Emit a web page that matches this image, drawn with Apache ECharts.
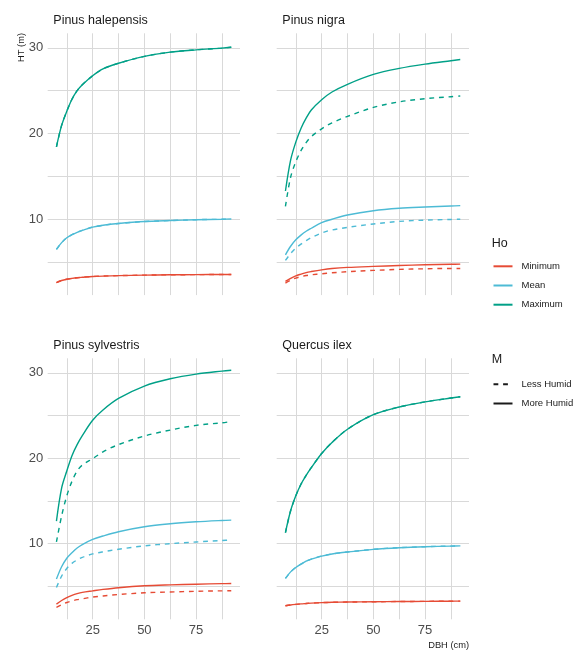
<!DOCTYPE html>
<html>
<head>
<meta charset="utf-8">
<script src="https://cdn.jsdelivr.net/npm/echarts@6/dist/echarts.min.js"></script>
<style>
  html, body { margin: 0; padding: 0; background: #ffffff; }
  #chart { width: 588px; height: 657px; }
</style>
</head>
<body>
<div id="chart"></div>
<script>
// Diameter at breast height (cm) where the height curves are sampled
const dbh = [7.5, 10, 12.5, 15, 17.5, 20, 25, 30, 37.5, 50, 62.5, 75, 87.5, 92];

const species = ['Pinus halepensis', 'Pinus nigra', 'Pinus sylvestris', 'Quercus ilex'];
const hoLevels = ['Minimum', 'Mean', 'Maximum'];
const mLevels = ['Less Humid', 'More Humid'];

const xTickValues = [12.5, 25, 37.5, 50, 62.5, 75, 87.5];
const xLabelValues = [25, 50, 75];
const yTickValues = [5, 10, 15, 20, 25, 30];
const yLabelValues = [10, 20, 30];

// Pinus halepensis: both humidity classes give the same curves
const halepensisMin  = [2.6, 2.85, 3.0, 3.1, 3.18, 3.23, 3.32, 3.37, 3.42, 3.48, 3.52, 3.54, 3.55, 3.55];
const halepensisMean = [6.48, 7.27, 7.85, 8.2, 8.48, 8.7, 9.08, 9.3, 9.5, 9.73, 9.85, 9.95, 10.0, 10.03];
const halepensisMax  = [18.45, 20.95, 22.6, 24.0, 25.0, 25.7, 26.75, 27.55, 28.2, 29.0, 29.5, 29.77, 29.97, 30.07];

// Pinus nigra
const nigraMinMore  = [2.75, 3.1, 3.4, 3.6, 3.78, 3.9, 4.1, 4.25, 4.38, 4.5, 4.6, 4.69, 4.75, 4.77];
const nigraMeanMore = [5.85, 6.85, 7.6, 8.15, 8.6, 8.95, 9.6, 10.0, 10.5, 11.0, 11.28, 11.43, 11.55, 11.59];
const nigraMaxMore  = [13.3, 16.9, 19.0, 20.6, 21.8, 22.75, 23.95, 24.85, 25.75, 26.9, 27.6, 28.1, 28.5, 28.64];
const nigraMinLess  = [2.56, 2.88, 3.14, 3.3, 3.43, 3.52, 3.64, 3.75, 3.88, 4.03, 4.15, 4.22, 4.26, 4.26];
const nigraMeanLess = [5.2, 6.0, 6.63, 7.1, 7.5, 7.85, 8.4, 8.75, 9.05, 9.45, 9.75, 9.9, 9.98, 10.0];
const nigraMaxLess  = [11.5, 14.9, 16.7, 18.0, 18.95, 19.65, 20.55, 21.25, 22.0, 23.05, 23.7, 24.07, 24.3, 24.38];

// Pinus sylvestris
const sylvestrisMinMore  = [2.93, 3.35, 3.7, 3.95, 4.15, 4.3, 4.48, 4.65, 4.85, 5.07, 5.18, 5.26, 5.32, 5.34];
const sylvestrisMeanMore = [5.86, 7.3, 8.3, 8.95, 9.5, 9.9, 10.5, 10.9, 11.4, 11.98, 12.33, 12.56, 12.72, 12.76];
const sylvestrisMaxMore  = [12.65, 16.5, 18.5, 20.3, 21.6, 22.65, 24.45, 25.65, 27.0, 28.45, 29.3, 29.85, 30.2, 30.3];
const sylvestrisMinLess  = [2.54, 2.85, 3.12, 3.3, 3.45, 3.55, 3.75, 3.88, 4.05, 4.25, 4.35, 4.43, 4.48, 4.5];
const sylvestrisMeanLess = [4.87, 6.2, 7.1, 7.7, 8.1, 8.4, 8.8, 9.05, 9.35, 9.75, 10.0, 10.2, 10.38, 10.43];
const sylvestrisMaxLess  = [10.2, 13.25, 15.6, 17.3, 18.5, 19.2, 19.95, 20.75, 21.6, 22.6, 23.3, 23.85, 24.15, 24.3];

// Quercus ilex: both humidity classes give the same curves
const ilexMin  = [2.74, 2.83, 2.9, 2.96, 3.0, 3.04, 3.1, 3.14, 3.17, 3.2, 3.23, 3.25, 3.27, 3.28];
const ilexMean = [5.93, 6.7, 7.22, 7.6, 7.95, 8.2, 8.55, 8.8, 9.03, 9.34, 9.53, 9.65, 9.72, 9.74];
const ilexMax  = [11.3, 13.85, 15.6, 16.96, 18.0, 18.9, 20.55, 21.85, 23.4, 25.1, 26.0, 26.6, 27.05, 27.2];

// Curves per panel, ordered Minimum / Mean / Maximum
const panelCurves = [
  { more: [halepensisMin, halepensisMean, halepensisMax], less: [halepensisMin, halepensisMean, halepensisMax] },
  { more: [nigraMinMore, nigraMeanMore, nigraMaxMore], less: [nigraMinLess, nigraMeanLess, nigraMaxLess] },
  { more: [sylvestrisMinMore, sylvestrisMeanMore, sylvestrisMaxMore], less: [sylvestrisMinLess, sylvestrisMeanLess, sylvestrisMaxLess] },
  { more: [ilexMin, ilexMean, ilexMax], less: [ilexMin, ilexMean, ilexMax] }
];

const hoColors = ['#E64B35', '#4DBBD5', '#00A087'];
const dashPattern = [4.8, 4.8];
const lineWidth = 1.4;
const gridColor = '#d9d9d9';
const fontFamily = 'Liberation Sans, Arial, sans-serif';

// Facet layout (2 x 2)
const panelBoxes = [
  { left: 47.7, top: 33.3, width: 192.3, height: 261.8 },
  { left: 276.7, top: 33.3, width: 192.3, height: 261.8 },
  { left: 47.7, top: 358.3, width: 192.3, height: 261.0 },
  { left: 276.7, top: 358.3, width: 192.3, height: 261.0 }
];

const xRange = [3.275, 96.225];
const yRange = [1.15, 31.7];

const grids = panelBoxes.map(b => Object.assign({ containLabel: false, outerBoundsMode: 'none' }, b));

const xAxes = panelBoxes.map((b, i) => ({
  type: 'value',
  gridIndex: i,
  min: xRange[0],
  max: xRange[1],
  axisLine: { show: false },
  axisTick: { show: false, customValues: xTickValues },
  axisLabel: {
    show: i >= 2,
    customValues: xLabelValues,
    margin: 5,
    fontSize: 13,
    color: '#4d4d4d',
    fontFamily: fontFamily
  },
  splitLine: { show: true, lineStyle: { color: gridColor, width: 1 } }
}));

const yAxes = panelBoxes.map((b, i) => ({
  type: 'value',
  gridIndex: i,
  min: yRange[0],
  max: yRange[1],
  axisLine: { show: false },
  axisTick: { show: false, customValues: yTickValues },
  axisLabel: {
    show: i % 2 === 0,
    customValues: yLabelValues,
    margin: 4.5,
    fontSize: 13,
    color: '#4d4d4d',
    fontFamily: fontFamily
  },
  splitLine: { show: true, lineStyle: { color: gridColor, width: 1 } }
}));

function pairs(values) {
  return dbh.map((d, k) => [d, values[k]]);
}

const series = [];
panelCurves.forEach((panel, p) => {
  // More humid (solid) first, less humid (dashed) drawn on top
  [['more', 'solid'], ['less', dashPattern]].forEach(([key, type]) => {
    panel[key].forEach((values, h) => {
      series.push({
        type: 'line',
        name: hoLevels[h],
        xAxisIndex: p,
        yAxisIndex: p,
        data: pairs(values),
        symbol: 'none',
        showSymbol: false,
        smooth: 0.33,
        silent: true,
        animation: false,
        color: hoColors[h],
        lineStyle: { color: hoColors[h], width: lineWidth, type: type }
      });
    });
  });
});

// Line-type keys for the humidity legend
series.push({
  type: 'line', name: mLevels[0], xAxisIndex: 0, yAxisIndex: 0, data: [],
  symbol: 'none', color: '#1a1a1a', lineStyle: { color: '#1a1a1a', width: lineWidth, type: dashPattern }
});
series.push({
  type: 'line', name: mLevels[1], xAxisIndex: 0, yAxisIndex: 0, data: [],
  symbol: 'none', color: '#1a1a1a', lineStyle: { color: '#1a1a1a', width: lineWidth, type: 'solid' }
});

const legendText = { fontSize: 9.5, color: '#1a1a1a', fontFamily: fontFamily, padding: [0, 0, 0, 4] };
const legendCommon = {
  orient: 'vertical', padding: 0,
  itemWidth: 19, itemHeight: 14, itemGap: 8,
  selectedMode: false,
  itemStyle: { opacity: 0, borderWidth: 0 },
  textStyle: legendText
};

function label(text, x, y, size, opts) {
  return Object.assign({
    type: 'text',
    x: x,
    y: y,
    silent: true,
    style: Object.assign({
      text: text,
      fontSize: size,
      fontFamily: fontFamily,
      fill: '#1a1a1a',
      align: 'left',
      verticalAlign: 'middle'
    }, (opts && opts.style) || {})
  }, (opts && opts.el) || {});
}

const chart = echarts.init(document.getElementById('chart'), null, { renderer: 'canvas' });
chart.setOption({
  backgroundColor: '#ffffff',
  animation: false,
  grid: grids,
  xAxis: xAxes,
  yAxis: yAxes,
  series: series,
  legend: [
    Object.assign({ left: 492.5, top: 260.7, data: hoLevels }, legendCommon),
    Object.assign({ left: 492.5, top: 378.7, data: mLevels }, legendCommon)
  ],
  graphic: [
    label(species[0], 53.3, 20.7, 12.5),
    label(species[1], 282.3, 20.7, 12.5),
    label(species[2], 53.3, 346, 12.5),
    label(species[3], 282.3, 346, 12.5),
    label('Ho', 491.7, 243.3, 12.5),
    label('M', 491.7, 360, 12.5),
    label('HT (m)', 21, 33, 9.3, { el: { rotation: Math.PI / 2 }, style: { align: 'right' } }),
    label('DBH (cm)', 469, 645, 9.3, { style: { align: 'right' } })
  ]
});
</script>
</body>
</html>
